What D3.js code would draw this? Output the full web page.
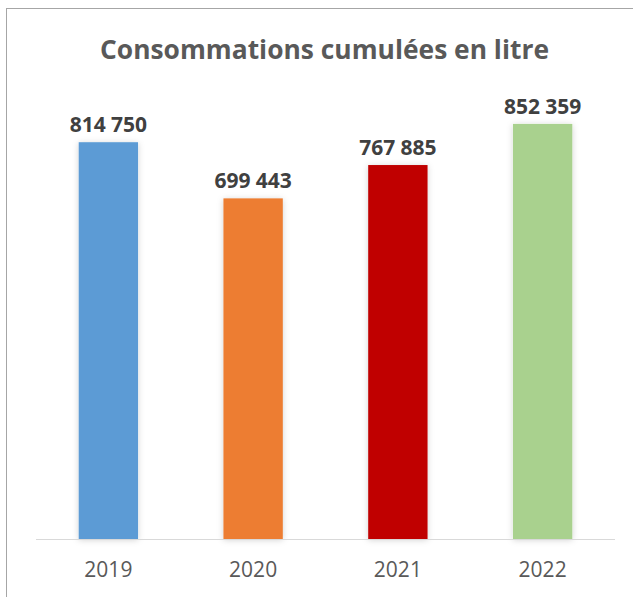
<!DOCTYPE html>
<html>
<head>
<meta charset="utf-8">
<script src="https://cdn.jsdelivr.net/npm/d3@7"></script>
<style>
html,body{margin:0;padding:0;background:#fff;}
svg{display:block;}
</style>
</head>
<body>
<svg id="chart" width="633" height="597"></svg>
<script>
const years = ["2019", "2020", "2021", "2022"];
const values = [814750, 699443, 767885, 852359];
const colors = ["#5B9BD5", "#ED7D31", "#C00000", "#A9D18E"];
const titleText = "Consommations cumulées en litre";

const svg = d3.select("#chart");
const W = 633, H = 597;

const defs = svg.append("defs");
const f = defs.append("filter").attr("id","sh").attr("x","-30%").attr("y","-10%").attr("width","160%").attr("height","120%");
f.append("feDropShadow").attr("dx",0).attr("dy",1).attr("stdDeviation",3).attr("flood-color","#000").attr("flood-opacity",0.18);

// frame
svg.append("rect").attr("x",6.5).attr("y",8.5).attr("width",W+20).attr("height",H+20)
  .attr("fill","#fff").attr("stroke","#A6A6A6").attr("stroke-width",1);

const x = d3.scaleBand().domain(years).range([36, 615]).paddingInner(0.59).paddingOuter(0.295);
const y = d3.scaleLinear().domain([0, 1000000]).range([539, 52]);

// bars
svg.append("g").selectAll("rect").data(years).join("rect")
  .attr("x", d => x(d))
  .attr("y", (d,i) => y(values[i]))
  .attr("width", x.bandwidth())
  .attr("height", (d,i) => y(0) - y(values[i]))
  .attr("fill", (d,i) => colors[i])
  .attr("filter","url(#sh)");

// baseline
svg.append("line").attr("x1",36).attr("x2",615).attr("y1",539.5).attr("y2",539.5)
  .attr("stroke","#D9D9D9").attr("stroke-width",1);

const fmt = v => d3.format(",")(v).replace(/,/g, " ");

// value labels
svg.append("g").selectAll("text").data(years).join("text")
  .attr("x", d => x(d) + x.bandwidth()/2)
  .attr("y", (d,i) => y(values[i]) - 10)
  .attr("text-anchor","middle")
  .attr("font-family","'Open Sans', sans-serif")
  .attr("font-weight","bold")
  .attr("font-size","21px")
  .attr("fill","#404040")
  .text((d,i) => fmt(values[i]));

// axis
const axis = svg.append("g").attr("transform","translate(0,539)")
  .call(d3.axisBottom(x).tickSize(0).tickPadding(23));
axis.select(".domain").remove();
axis.selectAll("text")
  .attr("font-family","'Open Sans', sans-serif")
  .attr("font-size","21px")
  .attr("fill","#595959")
  .attr("dy","0.71em");

// title
svg.append("text")
  .attr("x", 324.5).attr("y", 59)
  .attr("text-anchor","middle")
  .attr("font-family","'Open Sans', sans-serif")
  .attr("font-weight","bold")
  .attr("font-size","27px")
  .attr("fill","#595959")
  .attr("textLength", 449)
  .attr("lengthAdjust","spacingAndGlyphs")
  .text(titleText);
</script>
</body>
</html>
